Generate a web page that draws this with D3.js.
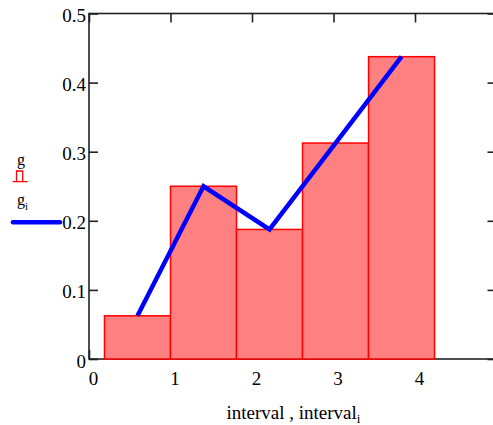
<!DOCTYPE html>
<html><head><meta charset="utf-8">
<script src="https://cdn.jsdelivr.net/npm/d3@7"></script>
<style>body{margin:0;background:#fff}svg{display:block}text{font-family:"Liberation Serif","Times New Roman",serif;fill:#000}</style>
</head><body><svg id="c" width="493" height="425"></svg>
<script>
// data
const binEdges = [0.19, 1.0, 1.81, 2.62, 3.43, 4.24];
const g = [0.0625, 0.25, 0.1875, 0.3125, 0.4375];
const xTicks = [0, 1, 2, 3, 4, 5];
const yTicks = [0, 0.1, 0.2, 0.3, 0.4, 0.5];
const yTickLabels = ["0", "0.1", "0.2", "0.3", "0.4", "0.5"];
const xTickLabels = ["0", "1", "2", "3", "4", ""];

const interval = g.map((v, i) => (binEdges[i] + binEdges[i + 1]) / 2);

const svg = d3.select("#c");
const x = d3.scaleLinear().domain([0, 5]).range([89, 496.5]);
const y = d3.scaleLinear().domain([0, 0.5]).range([359, 13.5]);
const axisColor = "#222";

// frame
const frame = svg.append("g");
frame.append("rect").attr("x", x(0)).attr("y", y(0.5))
  .attr("width", x(5) - x(0)).attr("height", y(0) - y(0.5))
  .attr("fill", "none").attr("stroke", axisColor).attr("stroke-width", 1.6);

// inward ticks via d3 axes
const tl = 9;
svg.append("g").attr("transform", `translate(0,${y(0.5)})`)
  .call(d3.axisBottom(x).tickValues(xTicks).tickSize(tl).tickFormat(""))
  .call(a => { a.select(".domain").remove(); a.selectAll("line").attr("stroke", axisColor).attr("stroke-width", 1.6); });
svg.append("g").attr("transform", `translate(0,${y(0)})`)
  .call(d3.axisTop(x).tickValues(xTicks).tickSize(tl).tickFormat(""))
  .call(a => { a.select(".domain").remove(); a.selectAll("line").attr("stroke", axisColor).attr("stroke-width", 1.6); });
svg.append("g").attr("transform", `translate(${x(0)},0)`)
  .call(d3.axisRight(y).tickValues(yTicks).tickSize(tl).tickFormat(""))
  .call(a => { a.select(".domain").remove(); a.selectAll("line").attr("stroke", axisColor).attr("stroke-width", 1.6); });
svg.append("g").attr("transform", `translate(${x(5)},0)`)
  .call(d3.axisLeft(y).tickValues(yTicks).tickSize(tl).tickFormat(""))
  .call(a => { a.select(".domain").remove(); a.selectAll("line").attr("stroke", axisColor).attr("stroke-width", 1.6); });

// bars
svg.append("g").selectAll("rect").data(g).join("rect")
  .attr("x", (d, i) => x(binEdges[i]))
  .attr("width", (d, i) => x(binEdges[i + 1]) - x(binEdges[i]))
  .attr("y", d => y(d))
  .attr("height", d => y(0) - y(d))
  .attr("fill", "#ff8080").attr("stroke", "#ff0000").attr("stroke-width", 1.5);

// line
svg.append("path").datum(g)
  .attr("d", d3.line().x((d, i) => x(interval[i])).y(d => y(d)))
  .attr("fill", "none").attr("stroke", "#0000ff").attr("stroke-width", 4.5)
  .attr("stroke-linejoin", "miter");

// tick labels
svg.append("g").selectAll("text").data(xTicks).join("text")
  .attr("x", d => x(d) + 4.5).attr("y", 384.5)
  .attr("text-anchor", "middle").attr("font-size", 19)
  .text((d, i) => xTickLabels[i]);
svg.append("g").selectAll("text").data(yTicks).join("text")
  .attr("x", 86).attr("y", d => y(d) + 8.5)
  .attr("text-anchor", "end").attr("font-size", 19)
  .text((d, i) => yTickLabels[i]);

// axis title
const t = svg.append("text").attr("x", 226.5).attr("y", 419).attr("font-size", 19);
t.append("tspan").text("interval , interval");
t.append("tspan").attr("font-size", 13).attr("dy", 4).text("i");

// legend
svg.append("text").attr("x", 17).attr("y", 164.5).attr("font-size", 16).text("g");
svg.append("path").attr("d", "M12.7,181.7H27.7M16.5,181.7V171H22.7V181.7")
  .attr("fill", "none").attr("stroke", "#ff0000").attr("stroke-width", 1.3);
const lg = svg.append("text").attr("x", 17).attr("y", 204.5).attr("font-size", 16);
lg.append("tspan").text("g");
lg.append("tspan").attr("font-size", 11).attr("dy", 5).text("i");
svg.append("line").attr("x1", 13).attr("x2", 60).attr("y1", 222.3).attr("y2", 222.3)
  .attr("stroke", "#0000ff").attr("stroke-width", 4.5).attr("stroke-linecap", "round");
</script></body></html>
